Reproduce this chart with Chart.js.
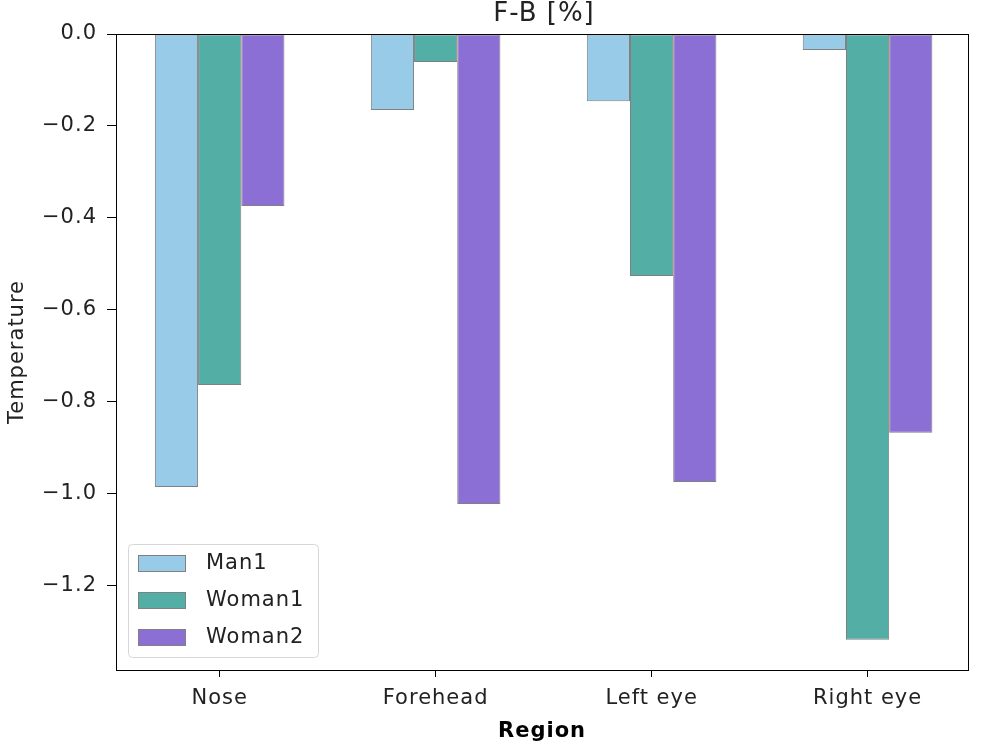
<!DOCTYPE html>
<html>
<head>
<meta charset="utf-8">
<script src="https://cdn.jsdelivr.net/npm/chart.js@4/dist/chart.umd.min.js"></script>
<style>
  html, body { margin: 0; padding: 0; background: #fff; }
  #wrap { width: 1000px; height: 750px; }
</style>
</head>
<body>
<div id="wrap"><canvas id="chart" width="1000" height="750"></canvas></div>
<script>
// ─── Data ───
var regions = ["Nose", "Forehead", "Left eye", "Right eye"];
var man1 = [-0.985, -0.165, -0.146, -0.035];
var woman1 = [-0.763, -0.061, -0.526, -1.317];
var woman2 = [-0.374, -1.022, -0.974, -0.867];
var yTicks = [0.0, -0.2, -0.4, -0.6, -0.8, -1.0, -1.2];
var titleText = "F-B [%]";

var colors = {
  man1: "#97cbe8",
  woman1: "#53aea6",
  woman2: "#8c6fd4",
  edge: "#808080",
  text: "#222",
};

var FONT = "'DejaVu Sans', sans-serif";
var SPACING = "1px";

// Slightly wider text, like the reference
var wideText = {
  id: "wideText",
  beforeLayout: function (chart) { chart.ctx.letterSpacing = SPACING; },
  beforeDraw: function (chart) { chart.ctx.letterSpacing = SPACING; },
};

// Title, box around plot area + legend inside lower left
var boxLegend = {
  id: "boxLegend",
  afterDraw: function (chart) {
    var ctx = chart.ctx;
    var a = chart.chartArea;
    ctx.save();
    ctx.letterSpacing = SPACING;

    // title
    ctx.fillStyle = colors.text;
    ctx.font = "26px " + FONT;
    ctx.textAlign = "center";
    ctx.textBaseline = "alphabetic";
    ctx.fillText(titleText, (a.left + a.right) / 2 + 2, 21);

    // frame
    ctx.strokeStyle = "#000";
    ctx.lineWidth = 1;
    ctx.strokeRect(Math.round(a.left) + 0.5, Math.round(a.top) + 0.5,
      Math.round(a.right - a.left), Math.round(a.bottom - a.top));

    // legend
    var x = a.left + 12, y = a.bottom - 126, w = 190, h = 113;
    ctx.fillStyle = "rgba(255,255,255,0.8)";
    ctx.strokeStyle = "#d6d6d6";
    ctx.beginPath();
    ctx.roundRect(x + 0.5, y + 0.5, w, h, 4);
    ctx.fill();
    ctx.stroke();
    ctx.font = "21px " + FONT;
    ctx.textAlign = "left";
    ctx.textBaseline = "middle";
    chart.data.datasets.forEach(function (ds, i) {
      var cy = y + 19 + i * 37;
      ctx.fillStyle = ds.backgroundColor;
      ctx.fillRect(x + 10, cy - 8, 47, 16);
      ctx.strokeStyle = colors.edge;
      ctx.strokeRect(x + 10.5, cy - 7.5, 47, 16);
      ctx.fillStyle = colors.text;
      ctx.fillText(ds.label, x + 78, cy + 1);
    });
    ctx.restore();
  },
};

function barSet(label, values, color) {
  return {
    label: label,
    data: values.map(function (v, i) { return { x: i, y: v }; }),
    backgroundColor: color,
    borderColor: colors.edge,
    borderWidth: 1,
    borderSkipped: false,
    categoryPercentage: 0.6,
    barPercentage: 1.0,
  };
}

new Chart(document.getElementById("chart"), {
  type: "bar",
  data: {
    datasets: [
      barSet("Man1", man1, colors.man1),
      barSet("Woman1", woman1, colors.woman1),
      barSet("Woman2", woman2, colors.woman2),
    ],
  },
  options: {
    responsive: false,
    animation: false,
    layout: { padding: { left: 0, right: 32, top: 34, bottom: 0 } },
    plugins: {
      legend: { display: false },
      tooltip: { enabled: false },
      title: { display: false },
    },
    scales: {
      x: {
        type: "linear",
        min: -0.48,
        max: regions.length - 1 + 0.465,
        offset: false,
        grid: { display: true, offset: false, drawOnChartArea: false, drawTicks: true, tickLength: 7, color: "#000" },
        border: { display: true, color: "#000" },
        afterBuildTicks: function (scale) {
          scale.ticks = regions.map(function (r, i) { return { value: i }; });
        },
        ticks: {
          color: colors.text,
          font: { family: FONT, size: 21 },
          padding: 9,
          maxRotation: 0,
          callback: function (v) { return regions[v]; },
        },
        title: {
          display: true,
          text: "Region",
          color: "#000",
          font: { family: FONT, size: 21, weight: "bold" },
          padding: { top: 0, bottom: 6 },
        },
        afterFit: function (scale) { scale.height = 80; },
      },
      y: {
        min: -1.383,
        max: 0,
        grid: { display: true, drawOnChartArea: false, drawTicks: true, tickLength: 9, color: "#000" },
        border: { display: true, color: "#000" },
        afterBuildTicks: function (scale) {
          scale.ticks = yTicks.map(function (v) { return { value: v }; });
        },
        ticks: {
          color: colors.text,
          font: { family: FONT, size: 21 },
          padding: 10,
          callback: function (v) {
            return Number(v).toFixed(1).replace("-", "\u2212");
          },
        },
        title: {
          display: true,
          text: "Temperature",
          color: colors.text,
          font: { family: FONT, size: 21 },
          padding: { top: 5, bottom: 0 },
        },
        afterFit: function (scale) { scale.width = 116; },
      },
    },
  },
  plugins: [wideText, boxLegend],
});
</script>
</body>
</html>
